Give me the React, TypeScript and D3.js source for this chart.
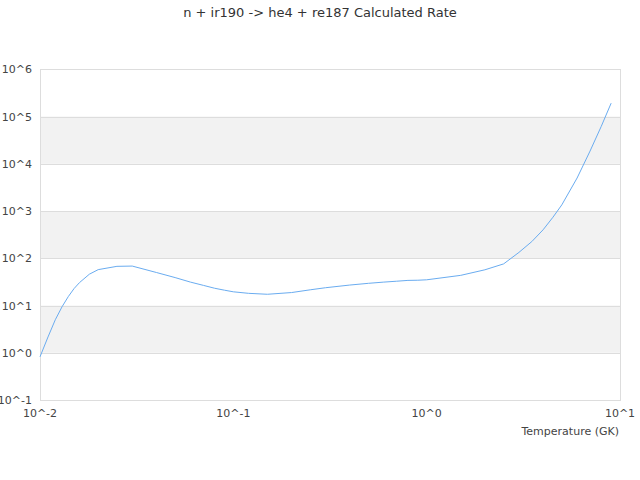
import React, { useEffect, useRef } from 'react';
import * as d3 from 'd3';

// temperature grid (GK) and calculated rate
const temps = [
  0.01, 0.011, 0.012, 0.013, 0.014, 0.015, 0.016, 0.018, 0.02, 0.025, 0.03,
  0.04, 0.05, 0.06, 0.07, 0.08, 0.09, 0.1, 0.12, 0.15, 0.2, 0.25, 0.3, 0.4,
  0.5, 0.6, 0.7, 0.8, 0.9, 1, 1.5, 2, 2.5, 3, 3.5, 4, 4.5, 5, 6, 7, 8, 9,
];
const rates = [
  0.82, 2.16, 5.0, 9.4, 15.4, 22.8, 30.5, 46, 57.5, 67.5, 68.4,
  50, 39, 31.3, 26.7, 23.2, 21.1, 19.5, 18.1, 17.3, 18.8, 21.5, 23.8, 27.1,
  29.5, 31.3, 32.7, 34, 34.3, 35, 43.5, 57, 76, 133, 226, 400, 740, 1350, 5000, 18600, 62000, 192000,
];
const xTicks = [0.01, 0.1, 1, 10];
const yTicks = [0.1, 1, 10, 100, 1e3, 1e4, 1e5, 1e6];

const chartTitle = 'n + ir190 -> he4 + re187 Calculated Rate';
const xTitle = 'Temperature (GK)';

export default function App() {
  const svgRef = useRef<SVGSVGElement>(null);

  useEffect(() => {
    if (!svgRef.current) return;
    const width = 640;
    const height = 480;
    const margin = { top: 69.3, right: 20, bottom: 80, left: 40 };
    const font = '"DejaVu Sans", sans-serif';

    d3.select(svgRef.current).selectAll('*').remove();
    const svg = d3.select(svgRef.current).attr('width', width).attr('height', height);

    const x = d3.scaleLog().domain([0.01, 10]).range([margin.left, width - margin.right]);
    const y = d3.scaleLog().domain([0.1, 1e6]).range([height - margin.bottom, margin.top]);

    // alternating bands
    const bands = yTicks.slice(0, -1).map((v, i) => ({ lo: v, hi: yTicks[i + 1], i }));
    svg
      .append('g')
      .selectAll('rect')
      .data(bands.filter(b => b.i % 2 === 1))
      .enter()
      .append('rect')
      .attr('x', x(0.01))
      .attr('width', x(10) - x(0.01))
      .attr('y', d => y(d.hi))
      .attr('height', d => y(d.lo) - y(d.hi))
      .attr('fill', '#f2f2f2');

    // horizontal grid lines
    svg
      .append('g')
      .selectAll('line')
      .data(yTicks)
      .enter()
      .append('line')
      .attr('x1', x(0.01))
      .attr('x2', x(10))
      .attr('y1', d => Math.round(y(d)) + 0.5)
      .attr('y2', d => Math.round(y(d)) + 0.5)
      .attr('stroke', '#dddddd');

    // plot border
    svg
      .append('rect')
      .attr('x', Math.round(x(0.01)) + 0.5)
      .attr('y', Math.round(y(1e6)) + 0.5)
      .attr('width', Math.round(x(10)) - Math.round(x(0.01)))
      .attr('height', Math.round(y(0.1)) - Math.round(y(1e6)))
      .attr('fill', 'none')
      .attr('stroke', '#dddddd');

    // rate curve
    const line = d3
      .line<number>()
      .x((_, i) => x(temps[i]))
      .y(d => y(d));
    svg
      .append('path')
      .datum(rates)
      .attr('d', line)
      .attr('fill', 'none')
      .attr('stroke', '#6aacf0')
      .attr('stroke-width', 1);

    const tickFmt = (v: number) => `10^${Math.round(Math.log10(v))}`;

    // y labels
    svg
      .append('g')
      .selectAll('text')
      .data(yTicks)
      .enter()
      .append('text')
      .attr('x', 32)
      .attr('y', d => y(d) + 4)
      .attr('text-anchor', 'end')
      .attr('font-family', font)
      .attr('font-size', '11px')
      .attr('fill', '#444')
      .text(tickFmt);

    // x labels
    svg
      .append('g')
      .selectAll('text')
      .data(xTicks)
      .enter()
      .append('text')
      .attr('x', d => x(d))
      .attr('y', 417)
      .attr('text-anchor', 'middle')
      .attr('font-family', font)
      .attr('font-size', '11px')
      .attr('fill', '#444')
      .text(tickFmt);

    // x axis title
    svg
      .append('text')
      .attr('x', 619)
      .attr('y', 435)
      .attr('text-anchor', 'end')
      .attr('font-family', font)
      .attr('font-size', '11px')
      .attr('fill', '#444')
      .text(xTitle);

    // chart title
    svg
      .append('text')
      .attr('x', width / 2)
      .attr('y', 17)
      .attr('text-anchor', 'middle')
      .attr('font-family', font)
      .attr('font-size', '13px')
      .attr('fill', '#333')
      .text(chartTitle);
  }, []);

  return (
    <div style={{ position: 'absolute', left: 0, top: 0 }}>
      <svg ref={svgRef} style={{ display: 'block', background: '#fff' }}></svg>
    </div>
  );
}
